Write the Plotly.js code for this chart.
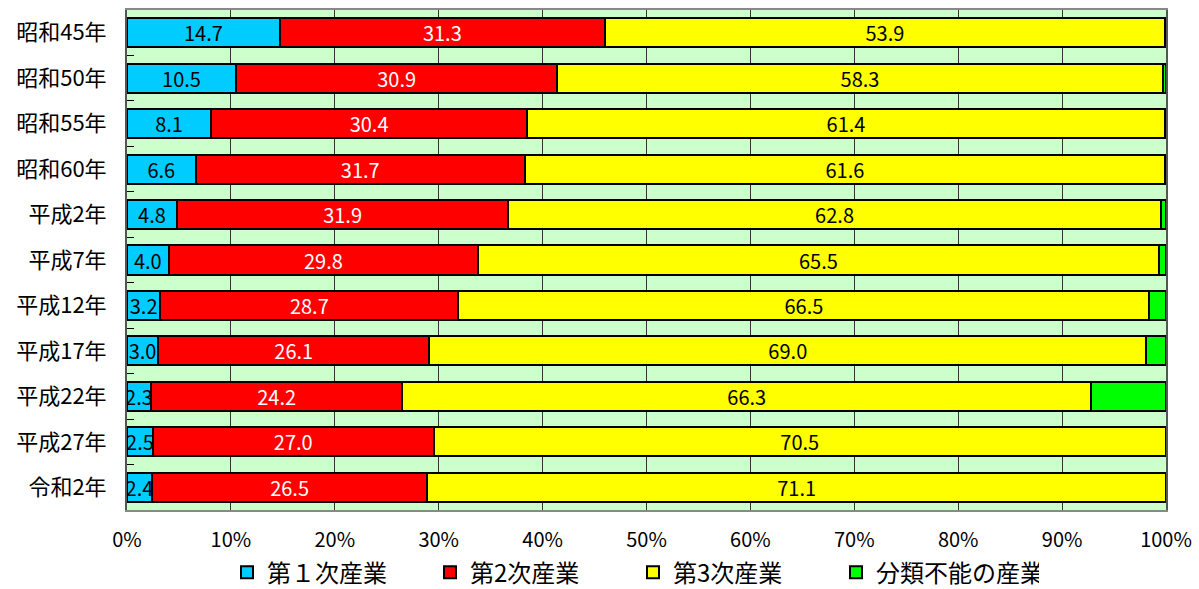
<!DOCTYPE html>
<html><head><meta charset="utf-8">
<script src="https://cdn.plot.ly/plotly-3.0.1.min.js"></script>
<style>html,body{margin:0;padding:0;background:#fff}#chart{width:1199px;height:589px}</style>
</head><body><div id="chart"></div>
<script>
const categories = ["昭和45年","昭和50年","昭和55年","昭和60年","平成2年","平成7年","平成12年","平成17年","平成22年","平成27年","令和2年"];
const seriesNames = ["第１次産業","第2次産業","第3次産業","分類不能の産業"];
const primary   = [14.7,10.5,8.1,6.6,4.8,4.0,3.2,3.0,2.3,2.5,2.4];
const secondary = [31.3,30.9,30.4,31.7,31.9,29.8,28.7,26.1,24.2,27.0,26.5];
const tertiary  = [53.9,58.3,61.4,61.6,62.8,65.5,66.5,69.0,66.3,70.5,71.1];
const unclassified = [0.1,0.3,0.1,0.1,0.5,0.7,1.6,1.9,7.2,0,0];

const colors = ["#00ccff","#ff0000","#ffff00","#00ff00"];
const textColors = ["#000","#fff","#000","#000"];
const FONT = "'Noto Sans CJK JP', 'Noto Sans', sans-serif";
const all = [primary, secondary, tertiary, unclassified];

const traces = all.map((vals, i) => ({
  type: "bar", orientation: "h",
  name: seriesNames[i],
  y: categories, x: vals,
  marker: {color: colors[i], line: {color: "#000", width: 2}},
  text: i < 3 ? vals.map(v => v.toFixed(1)) : undefined,
  textposition: i < 3 ? "inside" : "none",
  insidetextanchor: "middle",
  textangle: 0,
  constraintext: "none",
  textfont: {family: FONT, size: 20, color: textColors[i]},
  hoverinfo: "x+y+name"
}));

const layout = {
  width: 1199, height: 589,
  margin: {l: 127, r: 33, t: 10, b: 79},
  barmode: "stack", barnorm: "percent", bargap: 0.36,
  plot_bgcolor: "#ccffcc", paper_bgcolor: "#ffffff",
  font: {family: FONT, color: "#000"},
  xaxis: {
    range: [0, 100], dtick: 10, ticksuffix: "%",
    showgrid: true, gridcolor: "#333", gridwidth: 1,
    showline: true, linecolor: "#888", linewidth: 2, mirror: true,
    zeroline: false, ticks: "", ticklen: 0, ticklabelstandoff: 11,
    tickfont: {family: FONT, size: 20}
  },
  yaxis: {
    autorange: "reversed", showgrid: false,
    showline: true, linecolor: "#555", linewidth: 2, mirror: true,
    ticks: "inside", tickson: "boundaries", ticklen: 7, tickcolor: "#000", tickwidth: 1,
    ticklabelstandoff: 14,
    tickfont: {family: FONT, size: 22}
  },
  showlegend: true,
  legend: {
    orientation: "h", x: 0.487, xanchor: "center",
    yref: "container", y: 0.066, yanchor: "top",
    font: {family: FONT, size: 24}, entrywidth: 158, itemwidth: 30,
    traceorder: "normal"
  }
};
Plotly.newPlot("chart", traces, layout, {displayModeBar: false, staticPlot: true});
</script></body></html>
